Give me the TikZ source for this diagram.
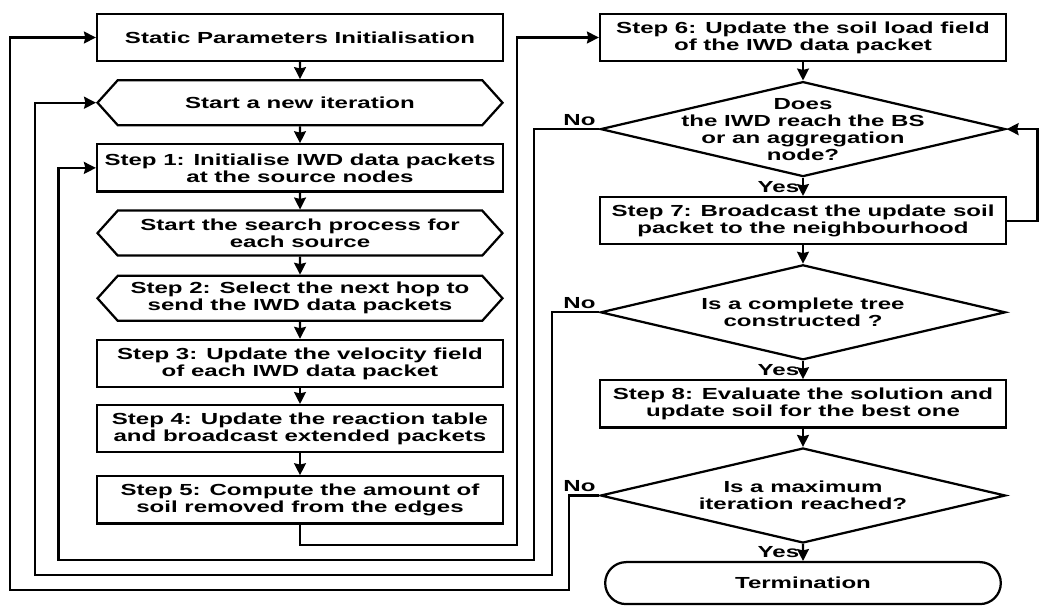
\documentclass[tikz,border=0pt]{standalone}
\usepackage{fontspec}
\setmainfont{Liberation Sans}[FakeStretch=1.5]
\usepackage{tikz}
\usetikzlibrary{shapes.geometric, shapes.misc, shapes.symbols, arrows.meta}
\tikzstyle{terminal} = [rounded rectangle, minimum width=10.125cm, minimum height=1.05cm, text centered, draw=black, line width=1.6pt]
\tikzstyle{stepbox} = [rectangle, minimum width=10.15cm, minimum height=1.18cm, inner xsep=2pt, align=center, draw=black, line width=1.6pt]
\tikzstyle{prep} = [signal, signal to=west and east, signal pointer angle=96, minimum width=10.125cm, minimum height=1.125cm, inner xsep=2pt, align=center, draw=black, line width=1.6pt]
\tikzstyle{decision} = [diamond, aspect=4.26, minimum width=10.125cm, minimum height=2.375cm, inner xsep=0pt, inner ysep=-0.7cm, align=center, draw=black, line width=1.6pt]
\tikzstyle{arrow} = [line width=1.5pt,->,>={Stealth[length=8.5pt,width=8.5pt,inset=1pt]}]
\tikzstyle{answer} = [inner sep=2pt]

\begin{document}
\begin{tikzpicture}[node distance=1.63cm, font=\fontsize{11.4pt}{12.1pt}\selectfont\bfseries]
    \useasboundingbox (0,0) rectangle (26,-15.2);
    % Left column
    \node (static) [stepbox] at (7.5,-0.9375) {Static Parameters Initialisation};
    \node (newiter) [prep, below of=static] {Start a new iteration};
    \node (init) [stepbox, below of=newiter] {Step 1: Initialise IWD data packets\\at the source nodes};
    \node (search) [prep, below of=init] {Start the search process for\\each source};
    \node (hop) [prep, below of=search] {Step 2: Select the next hop to\\send the IWD data packets};
    \node (velocity) [stepbox, below of=hop] {Step 3: Update the velocity field\\of each IWD data packet};
    \node (reaction) [stepbox, below of=velocity] {Step 4: Update the reaction table\\and broadcast extended packets};
    \node (removal) [stepbox, below of=reaction, yshift=-0.15cm] {Step 5: Compute the amount of\\soil removed from the edges};

    % Right column
    \node (soilload) [stepbox, node distance=12.575cm, right of=static] {Step 6: Update the soil load field\\of the IWD data packet};
    \node (reached) [decision, node distance=2.29cm, below of=soilload] {Does\\the IWD reach the BS\\or an aggregation\\node?};
    \node (bcast) [stepbox, node distance=2.29cm, below of=reached] {Step 7: Broadcast the update soil\\packet to the neighbourhood};
    \node (complete) [decision, node distance=2.29cm, below of=bcast] {Is a complete tree\\constructed ?};
    \node (evaluate) [stepbox, node distance=2.29cm, below of=complete] {Step 8: Evaluate the solution and\\update soil for the best one};
    \node (maxiter) [decision, node distance=2.29cm, below of=evaluate] {Is a maximum\\iteration reached?};
    \node (stop) [terminal, node distance=2.29cm, below of=maxiter, yshift=0.1cm] {Termination};

    % Arrows
    \draw [arrow] (static) -- (newiter);
    \draw [arrow] (newiter) -- (init);
    \draw [arrow] (init) -- (search);
    \draw [arrow] (search) -- (hop);
    \draw [arrow] (hop) -- (velocity);
    \draw [arrow] (velocity) -- (reaction);
    \draw [arrow] (reaction) -- (removal);
    \draw [arrow] (removal.south) |- (12.925,-13.625) |- (soilload.west);
    \draw [arrow] (soilload) -- (reached);
    \draw [arrow] (reached) -- (bcast) node[answer, midway, left] {Yes};
    \draw [arrow] (bcast) -- (complete);
    \draw [arrow] (complete) -- (evaluate) node[answer, midway, left] {Yes};
    \draw [arrow] (evaluate) -- (maxiter);
    \draw [arrow] (maxiter) -- (stop) node[answer, midway, left] {Yes};

    % Loops back
    \draw [arrow] (bcast.east) -- ++(0.76,0) |- (reached.east);
    \draw [arrow] (reached.west) node[answer, above left] {No} -- ++(-1.64,0) |- (1.4625,-14.0) |- (init.west);
    \draw [arrow] (complete.west) node[answer, above left] {No} -- ++(-1.19,0) |- (0.875,-14.375) |- (newiter.west);
    \draw [arrow] (maxiter.west) node[answer, above left] {No} -- ++(-0.76,0) |- (0.25,-14.75) |- (static.west);
\end{tikzpicture}
\end{document}
